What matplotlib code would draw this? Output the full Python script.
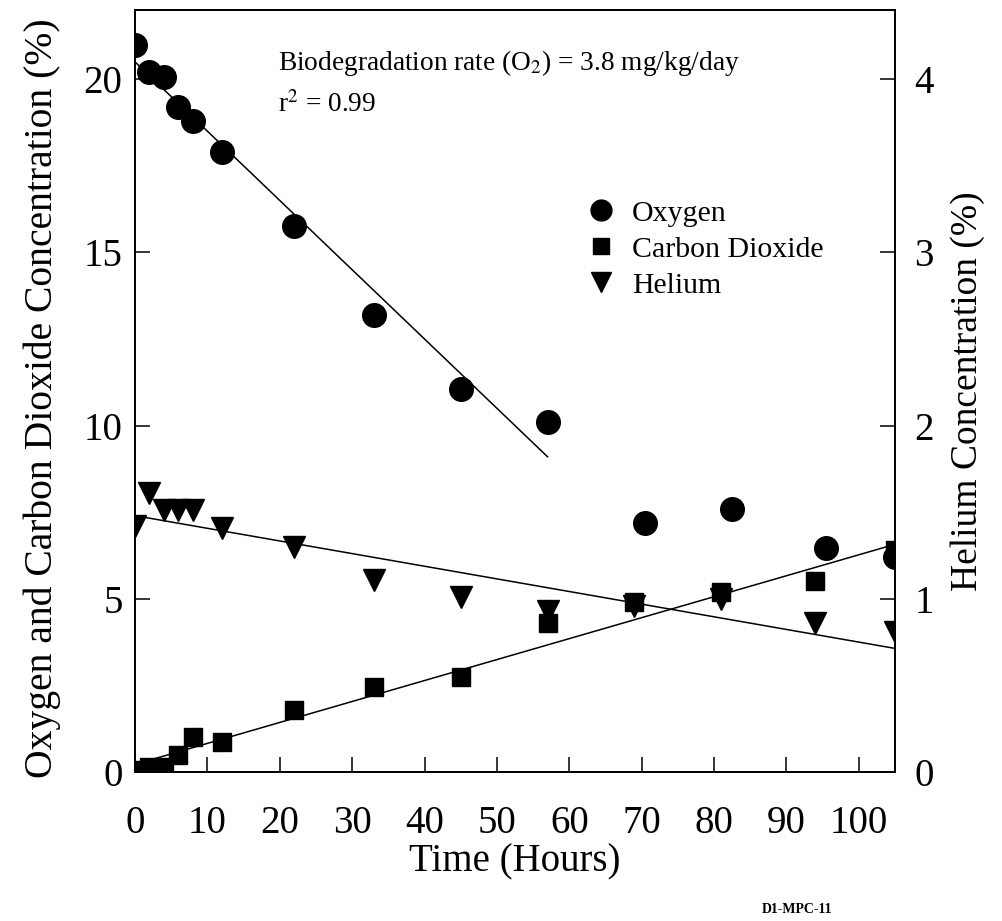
#!/usr/bin/env python3
"""Soil gas concentrations during in situ respiration test (D1-MPC-11)."""

import matplotlib
matplotlib.use("Agg")
import matplotlib.pyplot as plt
from matplotlib.lines import Line2D

plt.rcParams["font.family"] = ["Liberation Serif", "DejaVu Serif"]
plt.rcParams["mathtext.fontset"] = "stix"

# oxygen (%), left axis
o2_hours = [0, 2, 4, 6, 8, 12, 22, 33, 45, 57, 70.5, 82.5, 95.5, 105]
o2_conc = [21.0, 20.2, 20.05, 19.2, 18.8, 17.9, 15.75, 13.2, 11.07, 10.1, 7.2, 7.6, 6.47, 6.2]

# carbon dioxide (%), left axis
co2_hours = [0, 2, 4, 6, 8, 12, 22, 33, 45, 57, 69, 81, 94, 105]
co2_conc = [0.05, 0.15, 0.15, 0.5, 1.0, 0.87, 1.8, 2.45, 2.75, 4.3, 4.9, 5.2, 5.5, 6.4]

# helium (%), right axis
he_hours = [0, 2, 4, 6, 8, 12, 22, 33, 45, 57, 69, 81, 94, 105]
he_conc = [1.42, 1.61, 1.51, 1.51, 1.51, 1.41, 1.30, 1.11, 1.01, 0.93, 0.96, 1.0, 0.86, 0.81]

# fitted lines: (start hour, end hour, intercept, slope)
o2_fit = (0, 57, 20.5, -0.2)
co2_fit = (0, 105, 0.22, 0.0605)
he_fit = (0, 105, 1.48, -0.0073)

fig = plt.figure(figsize=(10.03, 9.21), dpi=100)
ax = fig.add_axes([0.1346, 0.1618, 0.7577, 0.8274])
ax2 = ax.twinx()

mk = dict(color="black", linestyle="none", markeredgecolor="black")
ax.plot(o2_hours, o2_conc, marker="o", markersize=17, zorder=3, **mk)
ax.plot(co2_hours, co2_conc, marker="s", markersize=13.5, zorder=3, **mk)
ax2.plot(he_hours, he_conc, marker="v", markersize=16, zorder=3, **mk)

for a, (x0, x1, b, m) in [(ax, o2_fit), (ax, co2_fit), (ax2, he_fit)]:
    a.plot([x0, x1], [b + m * x0, b + m * x1], color="black", linewidth=1.1)

ax.set_xlim(0, 105)
ax.set_ylim(0, 22)
ax2.set_ylim(0, 4.4)
ax.set_xticks(range(0, 101, 10))
ax.set_yticks([0, 5, 10, 15, 20])
ax2.set_yticks([0, 1, 2, 3, 4])

ax.tick_params(axis="x", direction="in", length=11, width=1.1, labelsize=28, pad=24)
ax.tick_params(axis="y", direction="in", length=11, width=1.1, labelsize=28, pad=9)
ax2.tick_params(axis="y", direction="in", length=11, width=1.1, labelsize=28, pad=14)
for a in (ax, ax2):
    for s in a.spines.values():
        s.set_linewidth(1.3)

ax.set_xlabel("Time (Hours)", fontsize=28, labelpad=1)
ax.set_ylabel("Oxygen and Carbon Dioxide Concentration (%)", fontsize=28.5)
ax.yaxis.set_label_coords(-0.097, 0.49)
ax2.set_ylabel("Helium Concentration (%)", fontsize=27, labelpad=12)

ax.text(0.188, 0.93, "Biodegradation rate (O$_2$) = 3.8 mg/kg/day", transform=ax.transAxes,
        fontsize=19.7, va="center")
ax.text(0.188, 0.876, "r$^2$ = 0.99", transform=ax.transAxes, fontsize=19.7, va="center")

handles = [
    Line2D([], [], marker="o", markersize=15, **mk),
    Line2D([], [], marker="s", markersize=11.5, **mk),
    Line2D([], [], marker="v", markersize=14, **mk),
]
ax.legend(handles, ["Oxygen", "Carbon Dioxide", "Helium"], loc="upper left",
          bbox_to_anchor=(0.558, 0.786), frameon=False, fontsize=21.5,
          handlelength=1.0, handletextpad=0.55, labelspacing=0.3)

fig.text(0.795, 0.009, "D1-MPC-11", fontsize=10, fontweight="bold", ha="center")

fig.savefig("out.png", dpi=100)
